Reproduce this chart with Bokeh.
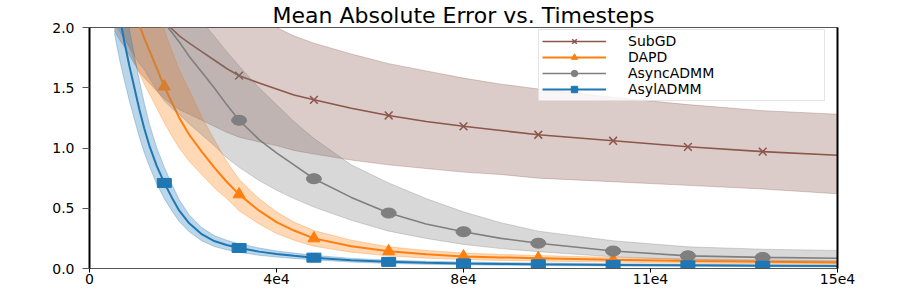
from bokeh.plotting import figure
from bokeh.models import (Range1d, FixedTicker, LinearAxis, Legend, LegendItem,
                          ColumnDataSource, PrintfTickFormatter)
from bokeh.embed import file_html
from bokeh.resources import INLINE

# ---------------- data ----------------
timesteps = [5000, 6000, 7000, 8000, 9000, 10000, 11000, 12000, 13500, 15000,
             16500, 18000, 20000, 22500, 25000, 27500, 30000, 34000, 37500, 41000,
             45000, 52500, 60000, 67500, 75000, 82500, 90000, 105000, 120000, 135000,
             150000]

subgd_mean = [2.9, 2.8, 2.7, 2.6, 2.5, 2.4, 2.33, 2.26, 2.16, 2.07,
              1.99, 1.93, 1.87, 1.80, 1.73, 1.66, 1.60, 1.54, 1.49, 1.44,
              1.40, 1.33, 1.27, 1.22, 1.18, 1.145, 1.11, 1.06, 1.01, 0.97,
              0.94]
subgd_lo = [1.97, 1.90, 1.84, 1.77, 1.70, 1.63, 1.58, 1.54, 1.47, 1.41,
            1.36, 1.32, 1.28, 1.23, 1.18, 1.13, 1.09, 1.05, 1.02, 0.98,
            0.95, 0.90, 0.86, 0.83, 0.80, 0.78, 0.75, 0.72, 0.69, 0.66,
            0.62]
subgd_hi = [3.89, 3.75, 3.62, 3.48, 3.35, 3.22, 3.12, 3.03, 2.89, 2.77,
            2.67, 2.59, 2.51, 2.41, 2.32, 2.22, 2.14, 2.06, 2.00, 1.93,
            1.87, 1.78, 1.70, 1.64, 1.58, 1.53, 1.49, 1.42, 1.36, 1.31,
            1.28]

dapd_mean = [2.75, 2.58, 2.43, 2.29, 2.15, 2.02, 1.91, 1.81, 1.66, 1.51,
             1.38, 1.25, 1.11, 0.97, 0.84, 0.72, 0.615, 0.48, 0.385, 0.315,
             0.25, 0.185, 0.143, 0.118, 0.10, 0.092, 0.085, 0.072, 0.062, 0.055,
             0.05]
dapd_lo = [2.2, 2.06, 1.94, 1.83, 1.72, 1.62, 1.53, 1.45, 1.33, 1.21,
           1.10, 1.0, 0.89, 0.78, 0.67, 0.58, 0.48, 0.37, 0.29, 0.235,
           0.185, 0.135, 0.105, 0.086, 0.074, 0.067, 0.062, 0.053, 0.045, 0.040,
           0.036]
dapd_hi = [3.6, 3.38, 3.18, 3.0, 2.82, 2.65, 2.5, 2.37, 2.18, 1.98,
           1.81, 1.65, 1.48, 1.26, 1.07, 0.89, 0.74, 0.58, 0.47, 0.385,
           0.315, 0.235, 0.18, 0.15, 0.128, 0.117, 0.108, 0.092, 0.08, 0.071,
           0.064]

async_mean = [3.0, 2.9, 2.8, 2.7, 2.6, 2.5, 2.42, 2.33, 2.18, 2.04,
              1.96, 1.88, 1.76, 1.63, 1.50, 1.36, 1.23, 1.07, 0.96, 0.86,
              0.745, 0.59, 0.46, 0.37, 0.305, 0.25, 0.21, 0.145, 0.105, 0.092,
              0.085]
async_lo = [2.04, 1.97, 1.90, 1.84, 1.77, 1.70, 1.65, 1.58, 1.48, 1.39,
            1.33, 1.28, 1.20, 1.11, 1.02, 0.92, 0.84, 0.73, 0.65, 0.58,
            0.51, 0.40, 0.31, 0.25, 0.20, 0.165, 0.14, 0.097, 0.072, 0.063,
            0.058]
async_hi = [3.6, 3.5, 3.4, 3.28, 3.15, 3.03, 2.92, 2.80, 2.62, 2.48,
            2.38, 2.28, 2.17, 2.05, 1.93, 1.80, 1.68, 1.50, 1.36, 1.22,
            1.08, 0.86, 0.71, 0.58, 0.47, 0.38, 0.31, 0.23, 0.18, 0.16,
            0.15]

asyl_mean = [2.35, 2.10, 1.88, 1.68, 1.50, 1.32, 1.16, 1.02, 0.85, 0.71,
             0.59, 0.48, 0.375, 0.285, 0.228, 0.195, 0.17, 0.14, 0.12, 0.105,
             0.09, 0.068, 0.055, 0.047, 0.042, 0.038, 0.035, 0.030, 0.026, 0.022,
             0.020]
asyl_lo = [1.95, 1.74, 1.56, 1.39, 1.24, 1.09, 0.96, 0.85, 0.70, 0.58,
           0.48, 0.39, 0.305, 0.23, 0.183, 0.155, 0.135, 0.11, 0.095, 0.083,
           0.072, 0.053, 0.042, 0.035, 0.031, 0.028, 0.025, 0.021, 0.018, 0.015,
           0.013]
asyl_hi = [2.78, 2.48, 2.22, 1.98, 1.77, 1.56, 1.37, 1.20, 1.00, 0.84,
           0.70, 0.57, 0.445, 0.34, 0.273, 0.235, 0.205, 0.17, 0.145, 0.128,
           0.11, 0.084, 0.069, 0.06, 0.054, 0.049, 0.046, 0.04, 0.036, 0.031,
           0.029]

marker_every = 15000
x_ticks = [0, 37500, 75000, 112500, 150000]
x_tick_labels = ["0", "4e4", "8e4", "11e4", "15e4"]
y_ticks = [0.0, 0.5, 1.0, 1.5, 2.0]

series_names = ["SubGD", "DAPD", "AsyncADMM", "AsylADMM"]
series_colors = ["#8c564b", "#ff7f0e", "#7f7f7f", "#1f77b4"]
series_data = [(subgd_mean, subgd_lo, subgd_hi),
               (dapd_mean, dapd_lo, dapd_hi),
               (async_mean, async_lo, async_hi),
               (asyl_mean, asyl_lo, asyl_hi)]

FONT = "DejaVu Sans"

p = figure(width=881, height=292,
           x_range=Range1d(0, 150000), y_range=Range1d(0, 2),
           output_backend="svg", toolbar_location=None,
           min_border_left=89, min_border_right=44,
           min_border_top=26, min_border_bottom=24,
           title="Mean Absolute Error vs. Timesteps")
p.title.text_font = FONT
p.title.text_font_size = "22px"
p.title.text_font_style = "normal"
p.title.text_color = "black"
p.title.align = "center"
p.title.standoff = 0
p.title.offset = 0

p.xgrid.visible = False
p.ygrid.visible = False
p.outline_line_color = "#555555"
p.outline_line_width = 1
p.background_fill_color = "white"
p.border_fill_color = "white"

# x axis
xa = p.xaxis[0]
xa.ticker = FixedTicker(ticks=x_ticks)
xa.major_label_overrides = {t: l for t, l in zip(x_ticks, x_tick_labels)}
xa.axis_line_color = "#555555"
xa.axis_line_width = 1.2
xa.major_tick_line_color = "black"
xa.major_tick_out = 4
xa.major_tick_in = 0
xa.minor_tick_line_color = None
xa.major_label_text_font = FONT
xa.major_label_text_font_size = "14px"
xa.major_label_text_color = "black"
xa.major_label_standoff = 1

# y axis
ya = p.yaxis[0]
ya.ticker = FixedTicker(ticks=y_ticks)
ya.formatter = PrintfTickFormatter(format="%.1f")
ya.axis_line_color = "black"
ya.axis_line_width = 2
ya.major_tick_line_color = "#555555"
ya.major_tick_out = 7
ya.major_tick_in = 0
ya.minor_tick_line_color = None
ya.major_label_text_font = FONT
ya.major_label_text_font_size = "14px"
ya.major_label_text_color = "black"
ya.major_label_standoff = 8

# right spine
ra = LinearAxis(ticker=FixedTicker(ticks=[]), axis_line_color="black", axis_line_width=2,
                major_tick_line_color=None, minor_tick_line_color=None,
                major_label_text_color=None)
p.add_layout(ra, "right")

items = []
markers = ["x", "triangle", "circle", "square"]
for name, color, (mean, lo, hi), mk in zip(series_names, series_colors, series_data, markers):
    src = ColumnDataSource(dict(x=timesteps, y=mean, lo=lo, hi=hi))
    p.varea(x="x", y1="lo", y2="hi", source=src, fill_color=color, fill_alpha=0.3)
    p.line(x="x", y="lo", source=src, line_color=color, line_alpha=0.3, line_width=1)
    p.line(x="x", y="hi", source=src, line_color=color, line_alpha=0.3, line_width=1)
    lr = p.line(x="x", y="y", source=src, line_color=color,
                line_width=2 if mk in ("square", "triangle") else 1.6)
    keep = [0 < t < timesteps[-1] and t % marker_every == 0 for t in timesteps]
    mx = [t for t, k in zip(timesteps, keep) if k]
    my = [v for v, k in zip(mean, keep) if k]
    msrc = ColumnDataSource(dict(x=mx, y=my))
    if mk == "square":
        lg = p.scatter(x="x", y="y", marker="square", size=8, source=msrc,
                       fill_color=color, line_color=color)
        p.rect(x="x", y="y", width=14, height=9, width_units="screen", height_units="screen",
               source=msrc, fill_color=color, line_color=color)
    elif mk == "circle":
        lg = p.scatter(x="x", y="y", marker="circle", size=9, source=msrc,
                       fill_color=color, line_color=color)
        p.ellipse(x="x", y="y", width=15, height=10, width_units="screen", height_units="screen",
                  source=msrc, fill_color=color, line_color=color)
    elif mk == "triangle":
        lg = p.scatter(x="x", y="y", marker="triangle", size=12, source=msrc,
                       fill_color=color, line_color=color)
    else:
        lg = p.scatter(x="x", y="y", marker="x", size=11, source=msrc,
                       line_color=color, line_width=1.5)
    items.append(LegendItem(label=name, renderers=[lr, lg]))

legend = Legend(items=items, location=(449, 167))
legend.padding = 3
legend.spacing = 0
legend.glyph_width = 64
legend.glyph_height = 16
legend.label_height = 16
legend.label_width = 193
legend.label_standoff = 22
legend.label_text_font = FONT
legend.label_text_font_size = "14px"
legend.label_text_color = "black"
legend.border_line_color = "#cccccc"
legend.border_line_width = 1
legend.background_fill_color = "white"
legend.background_fill_alpha = 0.8
legend.margin = 0
p.add_layout(legend)

open("out.html", "w").write(file_html(p, INLINE))
